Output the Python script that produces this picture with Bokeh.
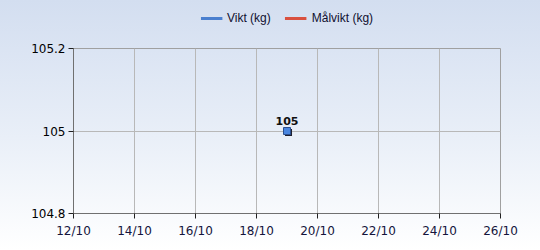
from datetime import datetime
from bokeh.plotting import figure
from bokeh.layouts import column
from bokeh.models import ColumnDataSource, Legend, LegendItem, FixedTicker, DatetimeTickFormatter, Range1d
from bokeh.transform import dodge
from bokeh.core.properties import value
from bokeh.embed import file_html
from bokeh.resources import INLINE

# data
dates = ["2023-10-19"]
weights = [105.0]
weight_labels = ["105"]
target_dates = []
target_weights = []
series_names = ["Vikt (kg)", "Målvikt (kg)"]
series_colors = ["#4a7fcf", "#d9503f"]
x_tick_dates = ["2023-10-12", "2023-10-14", "2023-10-16", "2023-10-18",
                "2023-10-20", "2023-10-22", "2023-10-24", "2023-10-26"]
y_ticks = [104.8, 105.0, 105.2]

def ms(s):
    return (datetime.strptime(s, "%Y-%m-%d") - datetime(1970, 1, 1)).total_seconds() * 1000

src = ColumnDataSource(dict(x=[ms(d) for d in dates], y=weights, lab=weight_labels))
tsrc = ColumnDataSource(dict(x=[ms(d) for d in target_dates], y=target_weights))
xt = [ms(d) for d in x_tick_dates]

FONT = "DejaVu Sans"
LFONT = "Liberation Sans"

# legend strip
lg = figure(width=540, height=36, output_backend="svg", toolbar_location=None,
            x_range=Range1d(0, 1), y_range=Range1d(0, 1),
            min_border=0, min_border_left=0, min_border_right=0, min_border_top=0, min_border_bottom=0)
lg.axis.visible = False
lg.grid.visible = False
lg.outline_line_color = None
lg.border_fill_alpha = 0
lg.background_fill_alpha = 0
items = []
for name, col in zip(series_names, series_colors):
    r = lg.line([float("nan")], [float("nan")], line_color=col, line_width=3)
    items.append(LegendItem(label=name, renderers=[r]))
legend = Legend(items=items, orientation="horizontal", location="center",
                background_fill_alpha=0, border_line_color=None,
                label_text_font=LFONT, label_text_font_size="12px",
                label_text_color="#101030", glyph_width=22, glyph_height=10,
                label_standoff=5, spacing=14, padding=0, margin=0)
lg.add_layout(legend, "center")

# main chart
p = figure(width=540, height=214, x_axis_type="datetime", output_backend="svg",
           toolbar_location=None, x_range=Range1d(xt[0], xt[-1]),
           y_range=Range1d(y_ticks[0], y_ticks[-1]),
           min_border_left=73, min_border_right=40, min_border_top=12, min_border_bottom=37)
p.border_fill_alpha = 0
p.background_fill_alpha = 0
p.outline_line_color = "#a0a0a0"

p.xaxis.ticker = FixedTicker(ticks=xt)
p.xaxis.formatter = DatetimeTickFormatter(days="%d/%m", months="%d/%m", hours="%d/%m")
p.yaxis.ticker = FixedTicker(ticks=y_ticks)
p.yaxis.major_label_overrides = {104.8: "104.8", 105.0: "105", 105.2: "105.2"}
for ax in (p.xaxis[0], p.yaxis[0]):
    ax.axis_line_color = "#707070"
    ax.major_tick_line_color = "#202020"
    ax.major_tick_in = 0
    ax.major_tick_out = 5
    ax.minor_tick_line_color = None
    ax.major_label_text_font = FONT
    ax.major_label_text_font_size = "12px"
p.xaxis.major_label_text_color = "#14143c"
p.yaxis.major_label_text_color = "#000000"
p.xaxis.major_label_standoff = 5
p.yaxis.major_label_standoff = 3
p.xgrid.grid_line_color = "#b8b8b8"
p.ygrid.grid_line_color = "#b8b8b8"

p.line("x", "y", source=tsrc, line_color=series_colors[1], line_width=3)
p.line("x", "y", source=src, line_color=series_colors[0], line_width=3)
p.scatter(dodge("x", 4.3e6, range=p.x_range), dodge("y", -0.0035, range=p.y_range),
          source=src, marker="square", size=7, fill_color="#1e2030", line_color=None)
p.scatter("x", "y", source=src, marker="square", size=7, fill_color="#4a86e0",
          line_color="#2a4f90", line_width=1)
p.text("x", "y", text="lab", source=src, text_font=value(FONT), text_font_size="11px",
       text_font_style="bold", text_align="center", text_baseline="bottom",
       y_offset=-6, text_color="#101010")

layout = column(lg, p, spacing=0)
layout.styles = {"background": "linear-gradient(to bottom, #d3def0 0%, #e9eff8 55%, #ffffff 100%)"}

open("out.html", "w").write(file_html(layout, INLINE))
